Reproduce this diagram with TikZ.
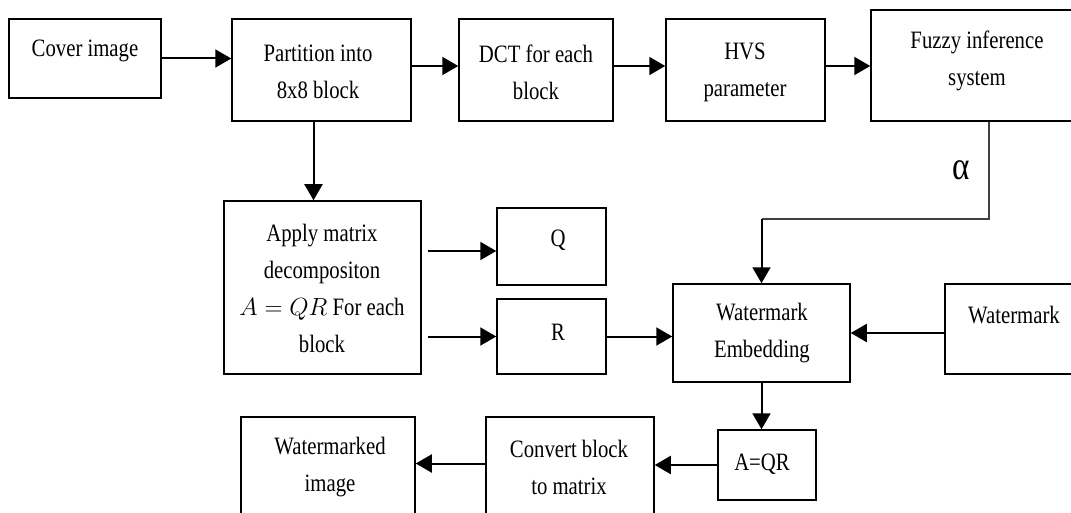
\documentclass[tikz,border=0pt]{standalone}
\usepackage{fontspec}
\setmainfont[FakeStretch=0.83]{Liberation Serif}
\usetikzlibrary{arrows.meta,calc}
\tikzset{
  box/.style={draw=black, line width=1.5pt, rectangle, inner sep=0pt},
  txt/.style={align=center, inner sep=0pt, font=\fontsize{25}{37}\selectfont},
  arr/.style={line width=2pt, -{Triangle[length=16pt,width=18pt]}},
  thin/.style={line width=1.5pt, draw=black!75}
}
\newcommand{\bx}[5]{\node[box, minimum width={(#4-#2)*1pt}, minimum height={(#5-#3)*1pt}] (#1) at ({(#2+#4)/2},{(#3+#5)/2}) {};}
\begin{document}
\begin{tikzpicture}[x=1pt,y=-1pt]
\useasboundingbox (0,0) rectangle (1071,513);
\fill[white] (0,0) rectangle (1071,513);
% boxes
\bx{cover}{9}{19}{161}{98}
\bx{part}{232}{19}{411}{121}
\bx{dct}{459}{19}{613}{121}
\bx{hvs}{666}{19}{825}{121}
\bx{fuzzy}{871}{10}{1085}{121}
\bx{apply}{224}{201}{421}{374}
\bx{q}{497}{208}{606}{285}
\bx{r}{497}{299}{606}{374}
\bx{we}{673}{284}{850}{382}
\bx{wm}{945}{284}{1085}{374}
\bx{aqr}{718}{430}{816}{500}
\bx{conv}{486}{417}{654}{530}
\bx{wmi}{241}{417}{415}{530}
% texts
\node[txt] (coverT) at (85,51) {Cover image};
\node[txt] (partT) at (318,71.5) {Partition into\\8x8 block};
\node[txt] (dctT) at (536,72) {DCT for each\\block};
\node[txt] (hvsT) at (745,72) {HVS\\parameter};
\node[txt] (fuzzyT) at (977,61) {Fuzzy inference\\system};
\node[txt] (applyT) at (322,288.5) {Apply matrix\\decompositon\\$A = QR$ For each\\block};
\node[txt] (qT) at (558,240) {Q};
\node[txt] (rT) at (558,332) {R};
\node[txt] (weT) at (762,333) {Watermark\\Embedding};
\node[txt] (wmT) at (1014,315.5) {Watermark};
\node[txt] (aqrT) at (762,464) {A=QR};
\node[txt] (convT) at (569,467) {Convert block\\to matrix};
\node[txt] (wmiT) at (330,467) {Watermarked\\image};
\node[inner sep=0pt, font=\fontsize{40}{40}\selectfont] (alpha) at (961,170) {α};
% connectors
\draw[arr] (cover.east) -- (cover.east -| part.west);
\draw[arr] ([yshift=4pt]part.east) -- ([yshift=4pt]dct.west);
\draw[arr] ([yshift=4pt]dct.east) -- ([yshift=4pt]hvs.west);
\draw[arr] ([yshift=4pt]hvs.east) -- ([yshift=4pt]hvs.east -| fuzzy.west);
\draw[arr] ([xshift=-8pt]part.south) -- ([xshift=-8pt]part.south |- apply.north);
\draw[arr, shorten <=6pt] ([yshift=-4.5pt]apply.east |- q.west) -- ([yshift=-4.5pt]q.west);
\draw[arr, shorten <=6pt] (apply.east |- r.west) -- (r.west);
\draw[arr] (r.east) -- (r.east -| we.west);
\draw[arr] (wm.west |- we.east) -- (we.east);
\coordinate (bend) at (989,219);
\draw[thin] (fuzzy.south -| bend) -- (bend) -- (bend -| we.north);
\draw[arr] (bend -| we.north) -- (we.north);
\draw[arr] (we.south) -- (we.south |- aqr.north);
\draw[arr] (aqr.west) -- (aqr.west -| conv.east);
\draw[arr] ([yshift=10pt]conv.west) -- ([yshift=10pt]conv.west -| wmi.east);
\end{tikzpicture}
\end{document}
